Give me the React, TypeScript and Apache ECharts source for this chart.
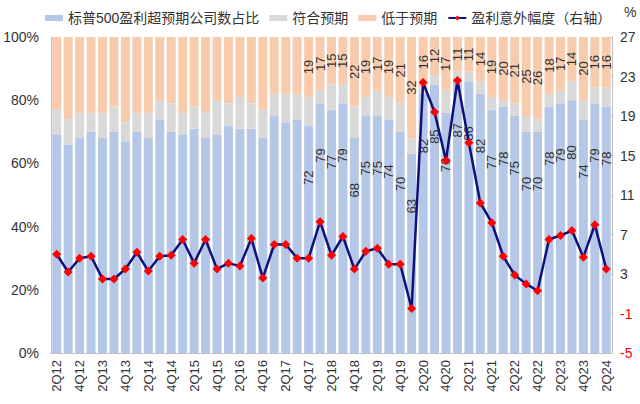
import React, { useEffect, useRef } from "react";
import * as echarts from "echarts";

const categories = [
  "2Q12","3Q12","4Q12","1Q13","2Q13","3Q13","4Q13","1Q14","2Q14","3Q14","4Q14","1Q15",
  "2Q15","3Q15","4Q15","1Q16","2Q16","3Q16","4Q16","1Q17","2Q17","3Q17","4Q17","1Q18",
  "2Q18","3Q18","4Q18","1Q19","2Q19","3Q19","4Q19","1Q20","2Q20","3Q20","4Q20","1Q21",
  "2Q21","3Q21","4Q21","1Q22","2Q22","3Q22","4Q22","1Q23","2Q23","3Q23","4Q23","1Q24","2Q24",
];

const beatShare = [
  69, 66, 68, 70, 68, 70, 67, 70, 68, 74, 70, 69,
  71, 68, 69, 72, 71, 71, 68, 75, 73, 74, 72, 79,
  77, 79, 68, 75, 75, 74, 70, 63, 82, 85, 76, 87,
  86, 82, 77, 78, 75, 70, 70, 78, 79, 80, 74, 79, 78,
];

const inlineShare = [
  8, 8, 8, 6, 8, 8, 6, 6, 8, 6, 9, 7,
  7, 8, 11, 7, 10, 8, 9, 7, 9, 8, 9, 4,
  8, 6, 10, 6, 8, 7, 9, 5, 2, 3, 7, 2,
  3, 4, 4, 2, 4, 5, 4, 4, 4, 6, 6, 5, 6,
];

const missShare = [
  23, 26, 24, 24, 24, 22, 27, 24, 24, 20, 21, 24,
  22, 24, 20, 21, 19, 21, 23, 18, 18, 18, 19, 17,
  15, 15, 22, 19, 17, 19, 21, 32, 16, 12, 17, 11,
  11, 14, 19, 20, 21, 25, 26, 18, 17, 14, 20, 16, 16,
];

const surprise = [
  5.0, 3.2, 4.6, 4.8, 2.5, 2.5, 3.5, 5.2, 3.3, 4.8, 4.9, 6.5,
  4.1, 6.5, 3.5, 4.1, 3.8, 6.6, 2.6, 6.0, 6.0, 4.6, 4.6, 8.3,
  4.9, 6.8, 3.5, 5.3, 5.6, 4.0, 4.0, -0.5, 22.4, 19.4, 14.5, 22.6,
  16.3, 10.2, 8.2, 4.8, 2.9, 2.0, 1.3, 6.5, 6.9, 7.4, 4.7, 8.0, 3.5,
];

const seriesNames = ["标普500盈利超预期公司数占比", "符合预期", "低于预期", "盈利意外幅度（右轴）"];
const labelStartIndex = 22;

const FONT = "'Liberation Sans', Arial, 'Noto Sans CJK SC', sans-serif";

export default function App() {
  const ref = useRef<HTMLDivElement>(null);

  useEffect(() => {
    if (!ref.current) return;
    const chart = echarts.init(ref.current, undefined, { renderer: "svg" });
    const labelFmt = (p: any) => (p.dataIndex >= labelStartIndex ? String(p.value) : "");
    chart.setOption({
      animation: false,
      textStyle: { fontFamily: FONT },
      legend: {
        top: 6,
        left: 40,
        itemWidth: 18,
        itemHeight: 6,
        itemGap: 10,
        textStyle: { fontSize: 14, color: "#333", fontFamily: FONT },
        data: [
          { name: seriesNames[0], icon: "rect" },
          { name: seriesNames[1], icon: "rect" },
          { name: seriesNames[2], icon: "rect" },
          { name: seriesNames[3] },
        ],
      },
      grid: { left: 51, right: 28, top: 37, bottom: 51, containLabel: false },
      xAxis: {
        type: "category",
        data: categories,
        axisLine: { lineStyle: { color: "#BFBFBF" } },
        axisTick: { show: false },
        axisLabel: {
          interval: 1,
          rotate: 90,
          margin: 7,
          fontSize: 13,
          color: "#333",
        },
      },
      yAxis: [
        {
          type: "value",
          min: 0,
          max: 100,
          interval: 20,
          splitLine: { show: false },
          axisLine: { show: true, lineStyle: { color: "#BFBFBF" } },
          axisTick: { show: true, inside: true, length: 4, lineStyle: { color: "#BFBFBF" } },
          axisLabel: { formatter: "{value}%", fontSize: 14, color: "#333", margin: 12 },
        },
        {
          type: "value",
          min: -5,
          max: 27,
          interval: 4,
          name: "%",
          nameLocation: "end",
          nameGap: 18,
          nameTextStyle: { fontSize: 14, color: "#333", align: "left", padding: [0, 0, 0, 12] },
          splitLine: { show: false },
          axisLine: { show: true, lineStyle: { color: "#BFBFBF" } },
          axisTick: { show: true, inside: true, length: 4, lineStyle: { color: "#BFBFBF" } },
          axisLabel: {
            fontSize: 14,
            margin: 8,
            color: (v: any) => (Number(v) < 0 ? "#FF0000" : "#333"),
          },
        },
      ],
      series: [
        {
          name: seriesNames[0],
          type: "bar",
          stack: "share",
          data: beatShare,
          barCategoryGap: "22%",
          itemStyle: { color: "#B4C7E7" },
          label: {
            show: true,
            position: "insideTop",
            distance: 45,
            rotate: 90,
            align: "right",
            verticalAlign: "middle",
            fontSize: 13,
            color: "#333",
            formatter: labelFmt,
          },
        },
        {
          name: seriesNames[1],
          type: "bar",
          stack: "share",
          data: inlineShare,
          itemStyle: { color: "#D9D9D9" },
        },
        {
          name: seriesNames[2],
          type: "bar",
          stack: "share",
          data: missShare,
          itemStyle: { color: "#F8CBAD" },
          label: {
            show: true,
            position: "inside",
            rotate: 90,
            fontSize: 13,
            color: "#333",
            formatter: labelFmt,
          },
        },
        {
          name: seriesNames[3],
          type: "line",
          yAxisIndex: 1,
          data: surprise,
          symbol: "diamond",
          symbolSize: 9,
          showAllSymbol: true,
          z: 5,
          itemStyle: { color: "#FF0000" },
          lineStyle: { color: "#10107A", width: 2.5 },
        },
      ],
    });
    return () => chart.dispose();
  }, []);

  return (
    <div
      ref={ref}
      style={{ position: "fixed", left: 0, top: 0, width: 640, height: 404, background: "#fff" }}
    />
  );
}
